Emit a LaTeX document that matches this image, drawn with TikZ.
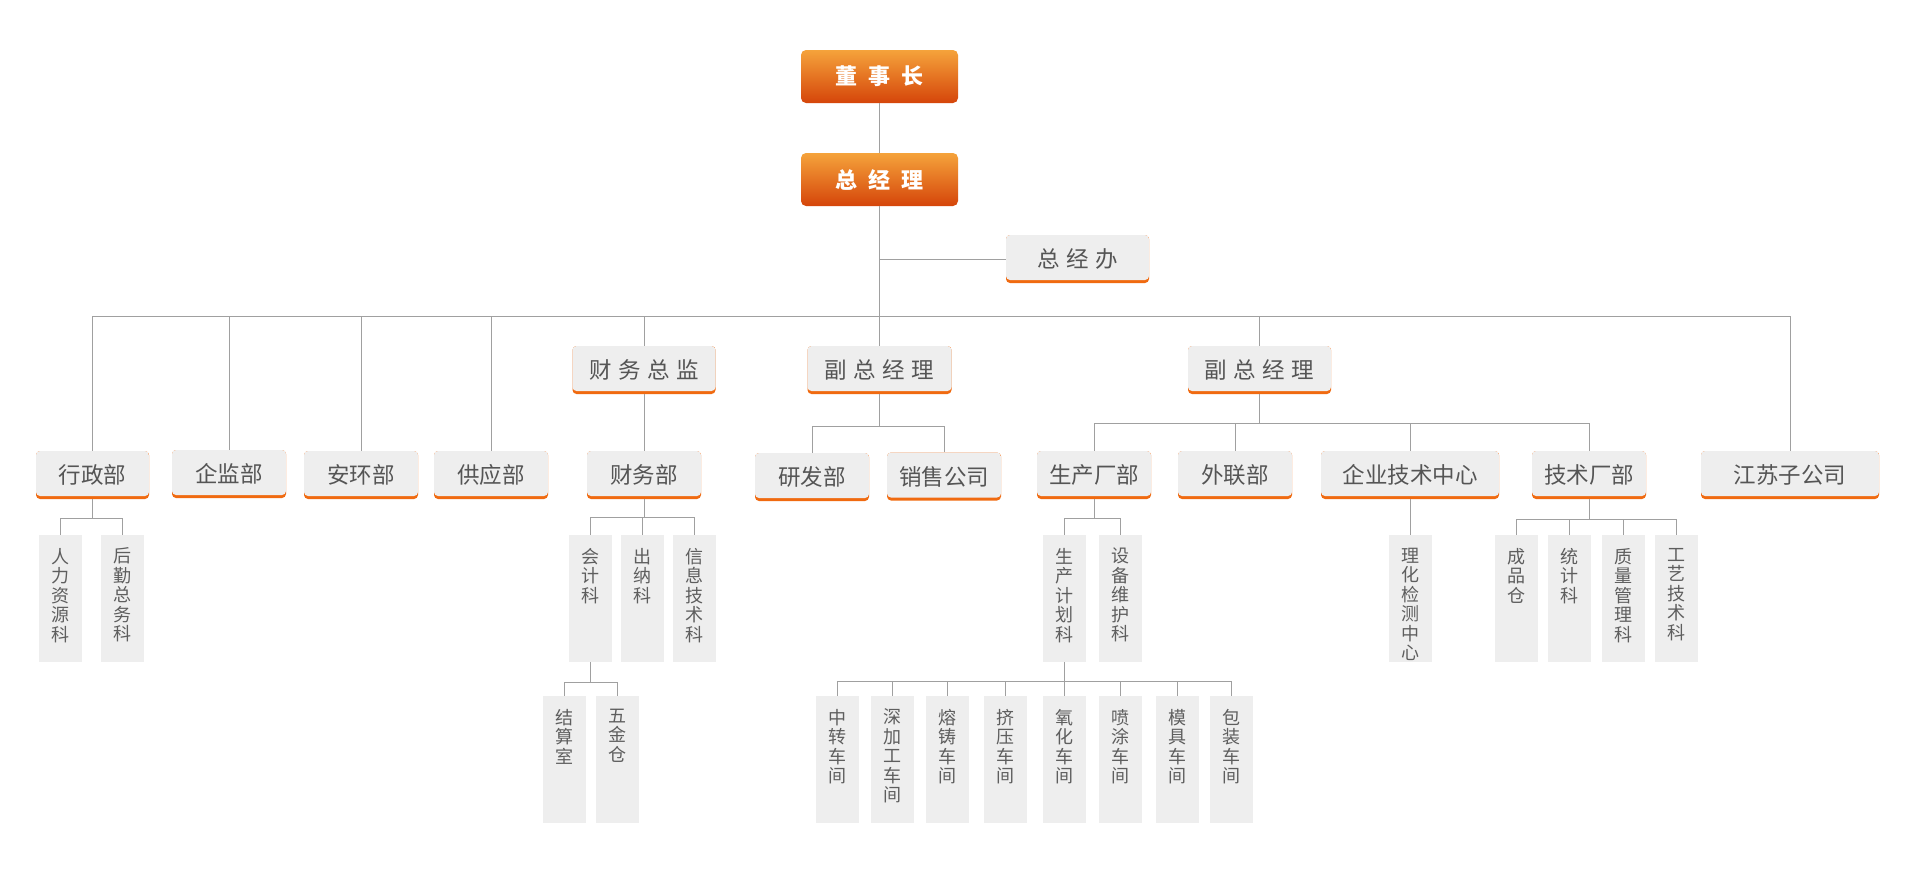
\documentclass[tikz,border=0pt]{standalone}
\usepackage{fontspec}
\newfontfamily\cjk{Noto Sans CJK SC}
\newcommand\topfnt{\cjk\bfseries\fontsize{22}{26}\selectfont\spaceskip=11pt\relax}
\newcommand\gfnt{\cjk\fontsize{22.5}{26}\selectfont}
\newcommand\gspfnt{\cjk\fontsize{22.5}{26}\selectfont\spaceskip=6.5pt\relax}
\newcommand\vfnt{\cjk\fontsize{18}{19.5}\selectfont}
\definecolor{boxgray}{HTML}{EEEEEE}
\definecolor{oline}{HTML}{F06A10}
\definecolor{otop}{HTML}{F5A33B}
\definecolor{obot}{HTML}{D5450A}
\definecolor{tgray}{HTML}{555555}
\definecolor{vgray}{HTML}{5E5E5E}
\definecolor{lgray}{HTML}{A0A0A0}
\begin{document}
\begin{tikzpicture}[x=1pt,y=-1pt,
  conn/.style={draw=lgray, line width=1pt},
  topbox/.style={rectangle, rounded corners=5pt, top color=otop, bottom color=obot,
    minimum width=157pt, minimum height=53pt, inner sep=0pt, text=white,
    font=\topfnt},
  gbox/.style={rectangle, rounded corners=4pt, fill=oline, minimum height=48pt,
    minimum width=114pt, inner sep=0pt, text=tgray,
    font=\gfnt,
    path picture={\fill[boxgray, rounded corners=4pt]
      (path picture bounding box.north west) rectangle
      ([yshift=3pt]path picture bounding box.south east);}},
  gsp/.style={gbox, font=\gspfnt},
  vbox/.style={rectangle, fill=boxgray, minimum width=43pt, minimum height=127pt, inner sep=0pt},
  vlab/.style={anchor=north, align=center, inner sep=0pt, text=vgray,
    font=\vfnt, label distance=-13pt}
]
\useasboundingbox (0,0) rectangle (1913,870);
\fill[white] (0,0) rectangle (1913,870);

% top
\node[topbox] (dsz) at (879.5,76.5) {董 事 长};
\node[topbox] (zjl) at (879.5,179.5) {总 经 理};
\node[gsp, minimum width=143pt] (zjb) at (1077.5,259) {总 经 办};

% level 2a
\node[gsp, minimum width=143pt] (cwzj) at (644,370) {财 务 总 监};
\node[gsp, minimum width=144pt] (fz1) at (879.5,370) {副 总 经 理};
\node[gsp, minimum width=143pt] (fz2) at (1259.5,370) {副 总 经 理};

% level 2b
\node[gbox, minimum width=113pt] (xzb) at (92.5,475) {行政部};
\node[gbox] (qjb) at (229,474) {企监部};
\node[gbox] (ahb) at (361,475) {安环部};
\node[gbox] (gyb) at (491,475) {供应部};
\node[gbox] (cwb) at (644,475) {财务部};
\node[gbox] (yfb) at (812,477) {研发部};
\node[gbox] (xsgs) at (944,476.5) {销售公司};
\node[gbox] (sccb) at (1094,475) {生产厂部};
\node[gbox] (wlb) at (1235,475) {外联部};
\node[gbox, minimum width=178pt] (qyjs) at (1410,475) {企业技术中心};
\node[gbox] (jscb) at (1589,475) {技术厂部};
\node[gbox, minimum width=178pt] (jszgs) at (1790,475) {江苏子公司};

% level 3
\node[vbox, label={[vlab]north:人\\力\\资\\源\\科}] (rl) at (60.5,598.5) {};
\node[vbox, label={[vlab]north:后\\勤\\总\\务\\科}] (hq) at (122.5,598.5) {};
\node[vbox, label={[vlab]north:会\\计\\科}] (kj) at (590,598.5) {};
\node[vbox, label={[vlab]north:出\\纳\\科}] (cn) at (642,598.5) {};
\node[vbox, label={[vlab]north:信\\息\\技\\术\\科}] (xx) at (694,598.5) {};
\node[vbox, label={[vlab]north:生\\产\\计\\划\\科}] (scjh) at (1064,598.5) {};
\node[vbox, label={[vlab]north:设\\备\\维\\护\\科}] (sbwh) at (1120.5,598.5) {};
\node[vbox, label={[vlab]north:理\\化\\检\\测\\中\\心}] (lh) at (1410,598.5) {};
\node[vbox, label={[vlab]north:成\\品\\仓}] (cp) at (1516,598.5) {};
\node[vbox, label={[vlab]north:统\\计\\科}] (tj) at (1569.5,598.5) {};
\node[vbox, label={[vlab]north:质\\量\\管\\理\\科}] (zl) at (1623.5,598.5) {};
\node[vbox, label={[vlab]north:工\\艺\\技\\术\\科}] (gy) at (1676.5,598.5) {};

% level 4
\node[vbox, label={[vlab]north:结\\算\\室}] (js) at (564.5,759.5) {};
\node[vbox, label={[vlab]north:五\\金\\仓}] (wj) at (617.5,759.5) {};
\node[vbox, label={[vlab]north:中\\转\\车\\间}] (w1) at (837.5,759.5) {};
\node[vbox, label={[vlab]north:深\\加\\工\\车\\间}] (w2) at (892.5,759.5) {};
\node[vbox, label={[vlab]north:熔\\铸\\车\\间}] (w3) at (947.5,759.5) {};
\node[vbox, label={[vlab]north:挤\\压\\车\\间}] (w4) at (1005.5,759.5) {};
\node[vbox, label={[vlab]north:氧\\化\\车\\间}] (w5) at (1064,759.5) {};
\node[vbox, label={[vlab]north:喷\\涂\\车\\间}] (w6) at (1120.5,759.5) {};
\node[vbox, label={[vlab]north:模\\具\\车\\间}] (w7) at (1177,759.5) {};
\node[vbox, label={[vlab]north:包\\装\\车\\间}] (w8) at (1231.5,759.5) {};

% connectors
\draw[conn] (dsz.south) -- (zjl.north);
\draw[conn] (zjl.south) -- (fz1.north);
\draw[conn] (zjl.south |- zjb.west) -- (zjb.west);
\coordinate (bus) at (879.5,316);
\foreach \c in {xzb,qjb,ahb,gyb,cwzj,fz2,jszgs} \draw[conn] (bus) -| (\c.north);
\draw[conn] (cwzj.south) -- (cwb.north);

\coordinate (b2) at (879.5,426);
\draw[conn] (fz1.south) -- (b2);
\foreach \c in {yfb,xsgs} \draw[conn] (b2) -| (\c.north);

\coordinate (b3) at (1259.5,423);
\draw[conn] (fz2.south) -- (b3);
\foreach \c in {sccb,wlb,qyjs,jscb} \draw[conn] (b3) -| (\c.north);

\coordinate (b4) at (92.5,518);
\draw[conn] (xzb.south) -- (b4);
\foreach \c in {rl,hq} \draw[conn] (b4) -| (\c.north);

\coordinate (b5) at (644,517);
\draw[conn] (cwb.south) -- (b5);
\foreach \c in {kj,cn,xx} \draw[conn] (b5) -| (\c.north);

\coordinate (b6) at (590,682);
\draw[conn] (kj.south) -- (b6);
\foreach \c in {js,wj} \draw[conn] (b6) -| (\c.north);

\coordinate (b7) at (1094,518);
\draw[conn] (sccb.south) -- (b7);
\foreach \c in {scjh,sbwh} \draw[conn] (b7) -| (\c.north);

\coordinate (b8) at (1064,681);
\draw[conn] (scjh.south) -- (b8);
\foreach \c in {w1,w2,w3,w4,w5,w6,w7,w8} \draw[conn] (b8) -| (\c.north);

\draw[conn] (qyjs.south) -- (lh.north);

\coordinate (b9) at (1589,519);
\draw[conn] (jscb.south) -- (b9);
\foreach \c in {cp,tj,zl,gy} \draw[conn] (b9) -| (\c.north);
\end{tikzpicture}
\end{document}
